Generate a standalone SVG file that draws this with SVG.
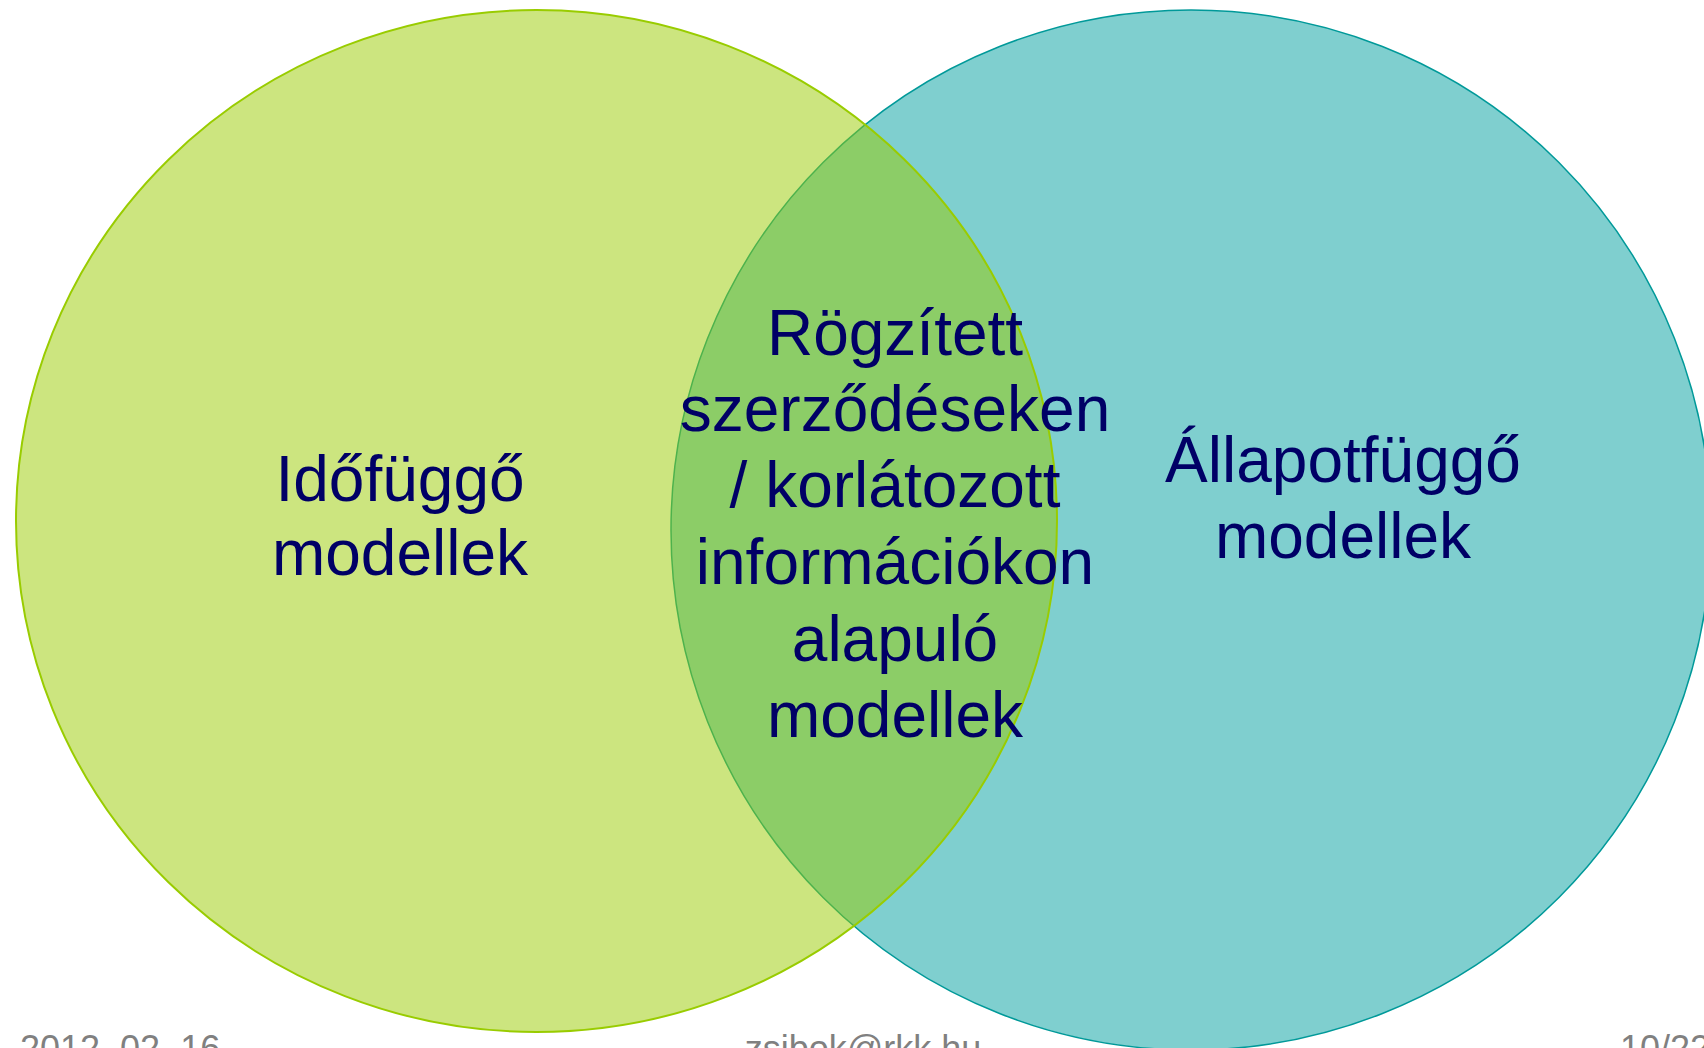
<svg xmlns="http://www.w3.org/2000/svg" width="1704" height="1048" viewBox="0 0 1704 1048">
  <style>
    .lbl { font-family: "Liberation Sans", Arial, sans-serif; font-size: 64px; fill: #000066; text-anchor: middle; }
    .foot { font-family: "Liberation Sans", Arial, sans-serif; font-size: 36px; fill: #808080; }
  </style>
  <rect width="1704" height="1048" fill="#ffffff"/>
  <g id="right-set">
    <circle cx="1191" cy="530" r="520" fill="#009f9f" fill-opacity="0.5" stroke="#009999" stroke-width="1.5"/>
  </g>
  <g id="left-set">
    <ellipse cx="536.5" cy="521" rx="520.5" ry="511" fill="#99cc00" fill-opacity="0.5" stroke="#99cc00" stroke-width="2"/>
  </g>
  <g id="connectors"></g>
  <g id="label-left">
    <text class="lbl" x="400" y="501">Időfüggő</text>
    <text class="lbl" x="400" y="575">modellek</text>
  </g>
  <g id="label-right">
    <text class="lbl" x="1343" y="482">Állapotfüggő</text>
    <text class="lbl" x="1343" y="558">modellek</text>
  </g>
  <g id="label-center">
    <text class="lbl" x="895" y="355">Rögzített</text>
    <text class="lbl" x="895" y="431">szerződéseken</text>
    <text class="lbl" x="895" y="507">/ korlátozott</text>
    <text class="lbl" x="895" y="584">információkon</text>
    <text class="lbl" x="895" y="661">alapuló</text>
    <text class="lbl" x="895" y="737">modellek</text>
  </g>
  <g id="footer">
    <text class="foot" x="20" y="1061">2012. 02. 16.</text>
    <text class="foot" x="863" y="1061" text-anchor="middle">zsibok@rkk.hu</text>
    <text class="foot" x="1620" y="1061">10/22</text>
  </g>
</svg>
